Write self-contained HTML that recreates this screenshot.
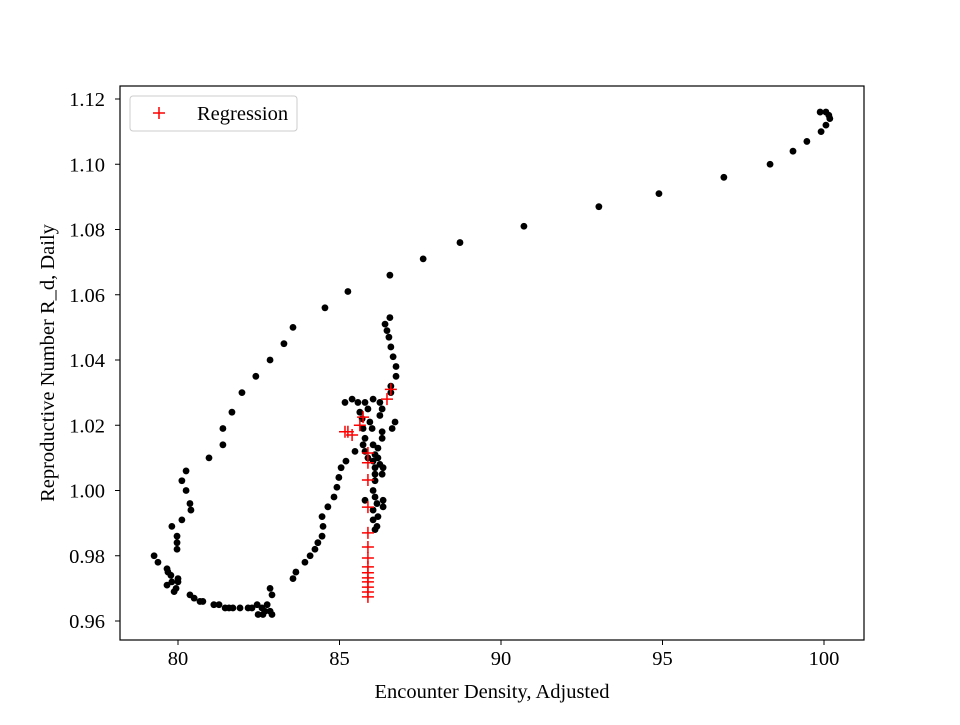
<!DOCTYPE html>
<html><head><meta charset="utf-8"><style>
body{margin:0;background:#fff}
svg text{font-family:"Liberation Serif",serif;fill:#000}
</style></head><body>
<svg id="chart" width="960" height="720" xmlns="http://www.w3.org/2000/svg">
<rect width="960" height="720" fill="#fff"/>
<g id="marks"></g>
<g id="axes"></g>
</svg>
<script>
const xTicks=[80,85,90,95,100];
const yTicks=[0.96,0.98,1.00,1.02,1.04,1.06,1.08,1.10,1.12];
const dataX=[99.88,100.06,100.15,100.18,100.06,99.91,99.47,99.04,98.33,96.90,94.89,93.03,90.71,88.73,87.59,86.56,85.26,84.55,83.56,83.28,82.85,82.41,81.98,81.67,81.39,81.39,80.96,80.25,80.12,80.25,80.37,80.40,80.12,79.81,79.97,79.97,79.97,
79.26,79.38,79.66,79.69,79.78,80.00,79.81,79.66,80.00,79.88,79.94,80.37,80.50,80.68,80.77,81.11,81.27,81.46,81.58,81.70,81.92,82.17,82.29,82.45,82.60,82.69,82.85,82.63,82.48,82.91,82.85,82.91,82.76,
83.56,83.65,83.93,84.09,84.24,84.33,84.46,84.49,84.46,84.64,84.83,84.92,84.98,85.05,85.20,85.48,
86.56,86.41,86.47,86.53,86.59,86.66,86.75,86.75,86.59,86.59,
85.17,85.39,85.57,85.79,85.88,86.04,86.25,86.32,86.25,86.72,86.63,
85.63,85.70,85.73,85.94,86.01,85.79,85.73,85.79,86.32,86.32,86.04,86.19,86.10,85.88,86.19,86.04,86.25,86.10,86.35,86.32,86.10,86.10,86.04,86.10,86.35,86.35,86.16,86.04,86.19,86.04,86.16,86.10,85.79];
const dataY=[1.116,1.116,1.115,1.114,1.112,1.110,1.107,1.104,1.100,1.096,1.091,1.087,1.081,1.076,1.071,1.066,1.061,1.056,1.050,1.045,1.040,1.035,1.030,1.024,1.019,1.014,1.010,1.006,1.003,1.000,0.996,0.994,0.991,0.989,0.986,0.984,0.982,
0.980,0.978,0.976,0.975,0.974,0.973,0.972,0.971,0.972,0.969,0.970,0.968,0.967,0.966,0.966,0.965,0.965,0.964,0.964,0.964,0.964,0.964,0.964,0.965,0.964,0.963,0.963,0.962,0.962,0.962,0.970,0.968,0.965,
0.973,0.975,0.978,0.980,0.982,0.984,0.986,0.989,0.992,0.995,0.998,1.001,1.004,1.007,1.009,1.012,
1.053,1.051,1.049,1.047,1.044,1.041,1.038,1.035,1.032,1.030,
1.027,1.028,1.027,1.027,1.025,1.028,1.027,1.025,1.023,1.021,1.019,
1.024,1.022,1.019,1.021,1.019,1.016,1.014,1.012,1.018,1.016,1.014,1.013,1.011,1.010,1.010,1.009,1.008,1.007,1.007,1.005,1.005,1.003,1.000,0.998,0.997,0.995,0.996,0.994,0.992,0.991,0.989,0.988,0.997];
const regX=[86.59,86.47,85.17,85.26,85.39,85.73,85.63,85.88,85.88,85.88,85.88,85.88,85.88,85.88,85.88,85.88,85.88,85.88,85.88,85.88,85.88];
const regY=[1.031,1.028,1.018,1.018,1.017,1.0225,1.020,1.0115,1.0085,1.0032,0.9949,0.9870,0.9827,0.9793,0.9766,0.9748,0.9732,0.9720,0.9704,0.9689,0.9674];

const L=120,R=864,T=86,B=640;
function xs(v){return 178+(v-80)*(824-178)/20;}
function ys(v){return 621-(v-0.96)*(621-99)/0.16;}
const NS="http://www.w3.org/2000/svg";
function mk(tag,attrs,parent){const e=document.createElementNS(NS,tag);for(const k in attrs)e.setAttribute(k,attrs[k]);parent.appendChild(e);return e;}
const marks=document.getElementById('marks'),axes=document.getElementById('axes');
for(let i=0;i<dataX.length;i++){
  const c=mk('circle',{cx:xs(dataX[i]),cy:ys(dataY[i]),r:3.4,fill:'#000'},marks);
  
  
}
for(let i=0;i<regX.length;i++){
  const x=xs(regX[i]),y=ys(regY[i]);
  const p=mk('path',{d:`M${x-6},${y}H${x+6}M${x},${y-6}V${y+6}`,stroke:'#f00','stroke-width':1.5,fill:'none'},marks);
  
  
}
const frame=mk('rect',{x:L,y:T,width:R-L,height:B-T,fill:'none',stroke:'#000','stroke-width':1.2},axes);


xTicks.forEach(t=>{
  const x=xs(t);
  mk('line',{x1:x,x2:x,y1:B,y2:B+5,stroke:'#000'},axes);
  const tx=mk('text',{x:x,y:B+25,'text-anchor':'middle','font-size':20.5},axes);
  tx.textContent=t;
  
  
});
yTicks.forEach(t=>{
  const y=ys(t);
  mk('line',{x1:L-5,x2:L,y1:y,y2:y,stroke:'#000'},axes);
  const tx=mk('text',{x:L-15,y:y+7,'text-anchor':'end','font-size':20.5},axes);
  tx.textContent=t.toFixed(2);
  
  
});
</script>
<svg style="position:absolute;left:0;top:0" width="960" height="720" xmlns="http://www.w3.org/2000/svg">
<text x="492" y="698" text-anchor="middle" font-size="20.5">Encounter Density, Adjusted</text>
<text transform="translate(54,363) rotate(-90)" text-anchor="middle" font-size="20.5">Reproductive Number R_d, Daily</text>
<g>
<rect x="130" y="96" width="167" height="35" rx="3" fill="#fff" fill-opacity="0.8" stroke="#ccc"/>
<path d="M153,113H165M159,107V119" stroke="#f00" stroke-width="1.5"/>
<text x="197" y="120" font-size="20.5">Regression</text>
</g>
</svg>
</body></html>
